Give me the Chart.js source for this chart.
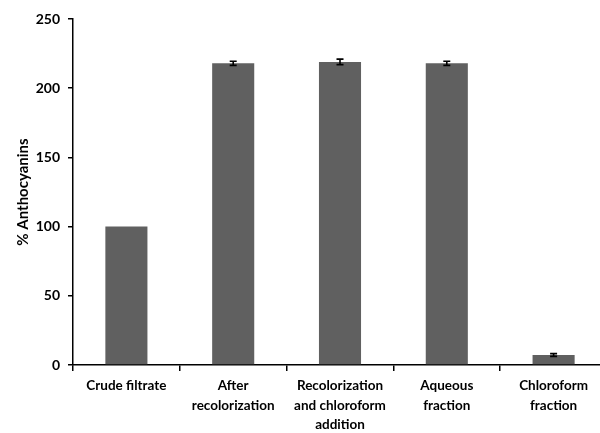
<!DOCTYPE html>
<html>
<head>
<meta charset="utf-8">
<script src="https://cdn.jsdelivr.net/npm/chart.js@4/dist/chart.umd.min.js"></script>
<style>
  html, body { margin: 0; padding: 0; overflow: hidden; background: #fff; }
  #wrap { width: 607px; height: 433px; }
</style>
</head>
<body>
<div id="wrap"><canvas id="grafico"></canvas></div>
<script>
// dati
const categorie = [
  "Crude filtrate",
  ["After", "recolorization"],
  ["Recolorization", "and chloroform", "addition"],
  ["Aqueous", "fraction"],
  ["Chloroform", "fraction"]
];
const valori = [100, 218, 219, 218, 7.2];
const errori = [0, 1.5, 2, 1.5, 1];
const tickY = [0, 50, 100, 150, 200, 250];

const famiglia = "Lato, 'Liberation Sans', sans-serif";

// barre di errore disegnate con le scale del grafico
const barreErrore = {
  id: "barreErrore",
  afterDatasetsDraw(chart) {
    const ctx = chart.ctx;
    const meta = chart.getDatasetMeta(0);
    const y = chart.scales.y;
    ctx.save();
    ctx.strokeStyle = "#000";
    ctx.lineWidth = 1.6;
    meta.data.forEach(function (bar, i) {
      if (!errori[i]) return;
      const x = bar.x;
      const yAlto = y.getPixelForValue(valori[i] + errori[i]);
      const yBasso = y.getPixelForValue(valori[i] - errori[i]);
      ctx.beginPath();
      ctx.moveTo(x, yAlto); ctx.lineTo(x, yBasso);
      ctx.moveTo(x - 3.5, yAlto); ctx.lineTo(x + 3.5, yAlto);
      ctx.moveTo(x - 3.5, yBasso); ctx.lineTo(x + 3.5, yBasso);
      ctx.stroke();
    });
    ctx.restore();
  }
};

const ctx = document.getElementById("grafico").getContext("2d");
const myChart = new Chart(ctx, {
  type: "bar",
  data: {
    labels: categorie,
    datasets: [{
      label: "% Anthocyanins",
      data: valori,
      backgroundColor: "#606060",
      borderWidth: 0,
      barPercentage: 0.394,
      categoryPercentage: 1
    }]
  },
  options: {
    responsive: true,
    maintainAspectRatio: false,
    animation: false,
    layout: { padding: { top: 19, left: 14, right: 0, bottom: 0 } },
    plugins: { legend: { display: false }, tooltip: { enabled: false } },
    scales: {
      x: {
        offset: true,
        grid: { display: true, offset: true, drawOnChartArea: false, color: "#000", lineWidth: 1.5, tickLength: 6 },
        border: { display: true, color: "#000", width: 1.5 },
        ticks: { color: "#000", font: { family: famiglia, weight: "bold", size: 13.5, lineHeight: 1.45 }, padding: 5, maxRotation: 0, autoSkip: false },
        afterFit: function (scale) { scale.height = 68; }
      },
      y: {
        min: 0,
        max: 250,
        afterBuildTicks: function (scale) { scale.ticks = tickY.map(function (v) { return { value: v }; }); },
        grid: { display: true, drawOnChartArea: false, color: "#000", lineWidth: 1.5, tickLength: 5 },
        border: { display: true, color: "#000", width: 1.5 },
        ticks: { color: "#000", font: { family: famiglia, weight: "bold", size: 14 }, padding: 8 },
        title: { display: true, text: "% Anthocyanins", color: "#000", font: { family: famiglia, weight: "bold", size: 15 }, padding: { top: 0, bottom: 0 } },
        afterFit: function (scale) { scale.width = 59; }
      }
    }
  },
  plugins: [barreErrore]
});
</script>
</body>
</html>
